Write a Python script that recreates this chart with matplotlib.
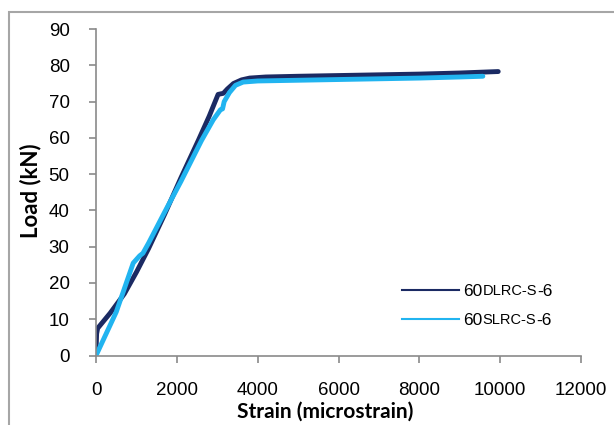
import numpy as np
import matplotlib
matplotlib.use('Agg')
import matplotlib.pyplot as plt
from matplotlib.patches import Rectangle
from matplotlib.lines import Line2D

# Load-strain data
strain_d = [0, 15, 40, 350, 700, 1000, 1300, 1700, 2100, 2530, 2800, 3020, 3150, 3250, 3400, 3600, 3800, 4200, 5000, 6000, 7000, 8000, 9000, 9950]
load_d = [1.0, 6.0, 7.5, 11.7, 17.0, 23.0, 29.5, 39.0, 49.0, 59.3, 66.0, 72.0, 72.3, 73.5, 75.0, 76.0, 76.5, 76.8, 77.0, 77.2, 77.4, 77.6, 77.9, 78.3]

strain_s = [0, 250, 500, 920, 1080, 1160, 1300, 1700, 2100, 2610, 2900, 3080, 3130, 3170, 3300, 3450, 3640, 4000, 5000, 6000, 7000, 8000, 9000, 9570]
load_s = [0.0, 6.0, 12.0, 25.5, 27.5, 28.2, 31.0, 39.6, 48.0, 59.3, 65.0, 67.8, 68.0, 70.0, 72.5, 74.5, 75.4, 75.7, 75.9, 76.1, 76.3, 76.5, 76.8, 77.0]

names = ['60DLRC-S-6', '60SLRC-S-6']
colors = ['#1B2A63', '#21B4F0']

plt.rcParams['font.family'] = ['Liberation Sans', 'DejaVu Sans']

fig = plt.figure(figsize=(6.14, 4.25), dpi=100)
ax = fig.add_axes([0.1564, 0.1635, 0.790, 0.768])

ax.plot(strain_d, load_d, color=colors[0], lw=3.5, solid_joinstyle='round', solid_capstyle='round')
ax.plot(strain_s, load_s, color=colors[1], lw=3.5, solid_joinstyle='round', solid_capstyle='round')

ax.set_xlim(0, 12000)
ax.set_ylim(0, 90)
ax.set_xticks(np.arange(0, 12001, 2000))
ax.set_yticks(np.arange(0, 91, 10))

for s in ['top', 'right']:
    ax.spines[s].set_visible(False)
for s in ['left', 'bottom']:
    ax.spines[s].set_color('#8a8a8a')
    ax.spines[s].set_linewidth(1.2)
ax.tick_params(axis='both', colors='#8a8a8a', length=5, width=1.2, labelcolor='black', labelsize=13.5)
ax.tick_params(axis='y', pad=14)
ax.tick_params(axis='x', pad=14)

ax.set_xlabel('Strain (microstrain)', fontsize=15, fontweight='bold', family='Lato')
ax.xaxis.set_label_coords(0.472, -0.14)
ax.set_ylabel('Load (kN)', fontsize=16, fontweight='bold', family='Lato')
ax.yaxis.set_label_coords(-0.112, 0.504)

# legend without frame; middle part of the names is in small caps
handles = [Line2D([], [], color=c, lw=1.5) for c in colors]
leg = ax.legend(handles, [n[:2] for n in names], loc='upper left',
                bbox_to_anchor=(402 / 614, 1 - 284 / 425), bbox_transform=fig.transFigure,
                frameon=False, fontsize=12.5, handlelength=3.3, handletextpad=0.2,
                labelspacing=0.79, borderpad=0, borderaxespad=0)
for t, n in zip(leg.get_texts(), names):
    small = ax.annotate(n[2:-2], xy=(1, 0), xycoords=t, xytext=(0.3, 0.8),
                        textcoords='offset points', va='bottom', ha='left',
                        fontsize=10.5, zorder=6)
    ax.annotate(n[-2:], xy=(1, 0), xycoords=small, xytext=(0, -0.8),
                textcoords='offset points', va='bottom', ha='left',
                fontsize=12.5, zorder=6)

# gray outer frame of the original picture
fig.patches.append(Rectangle((9 / 614, -0.1), 1.2, 1.1 - 12 / 425, transform=fig.transFigure,
                             fill=False, edgecolor='#a6a6a6', lw=1.5))

fig.canvas.draw()
plt.savefig('out.png', dpi=100)
